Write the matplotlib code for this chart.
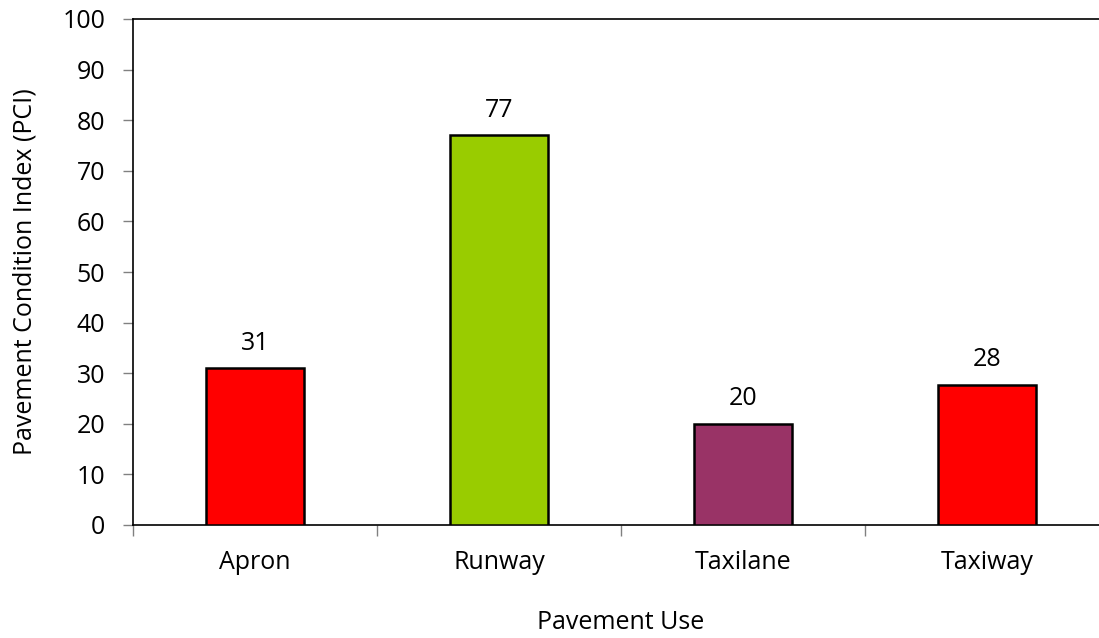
import matplotlib
matplotlib.use("Agg")
import matplotlib.pyplot as plt
import numpy as np

categories = ["Apron", "Runway", "Taxilane", "Taxiway"]
values = [31, 77, 20, 27.7]
labels = ["31", "77", "20", "28"]
colors = ["#FF0000", "#99CC00", "#993366", "#FF0000"]
yticks = [0, 10, 20, 30, 40, 50, 60, 70, 80, 90, 100]

plt.rcParams['font.family'] = ['Open Sans', 'DejaVu Sans']
FS = 18

fig = plt.figure(figsize=(10.99, 6.38), dpi=100)
ax = fig.add_axes([133/1099, 1-525/638, 976/1099, 506/638])

x = np.arange(len(categories))
bars = ax.bar(x, values, width=0.4, color=colors, edgecolor="black", linewidth=1.8, zorder=3)
for xi, v, lab in zip(x, values, labels):
    ax.annotate(lab, (xi, v), xytext=(0, 9), textcoords="offset points",
                ha="center", va="bottom", fontsize=FS)

ax.set_xlim(-0.5, 3.5)
ax.set_ylim(0, 100)
ax.set_yticks(yticks)
ax.tick_params(axis="y", labelsize=FS, length=7, width=1, color="#808080", direction="out", pad=13)
ax.set_xticks(x)
ax.set_xticklabels(categories)
ax.tick_params(axis="x", which="major", length=0, labelsize=FS, pad=18)
ax.set_xticks(np.arange(-0.5, 4.0, 1.0), minor=True)
ax.tick_params(axis="x", which="minor", length=8, width=1, color="#808080", direction="out")

for s in ["left", "bottom", "top"]:
    ax.spines[s].set_color("black")
    ax.spines[s].set_linewidth(1.2)
ax.spines["right"].set_visible(False)

ax.set_ylabel("Pavement Condition Index (PCI)", fontsize=FS, labelpad=18)
ax.set_xlabel("Pavement Use", fontsize=FS, labelpad=25)

fig.savefig("out.png", dpi=100)
